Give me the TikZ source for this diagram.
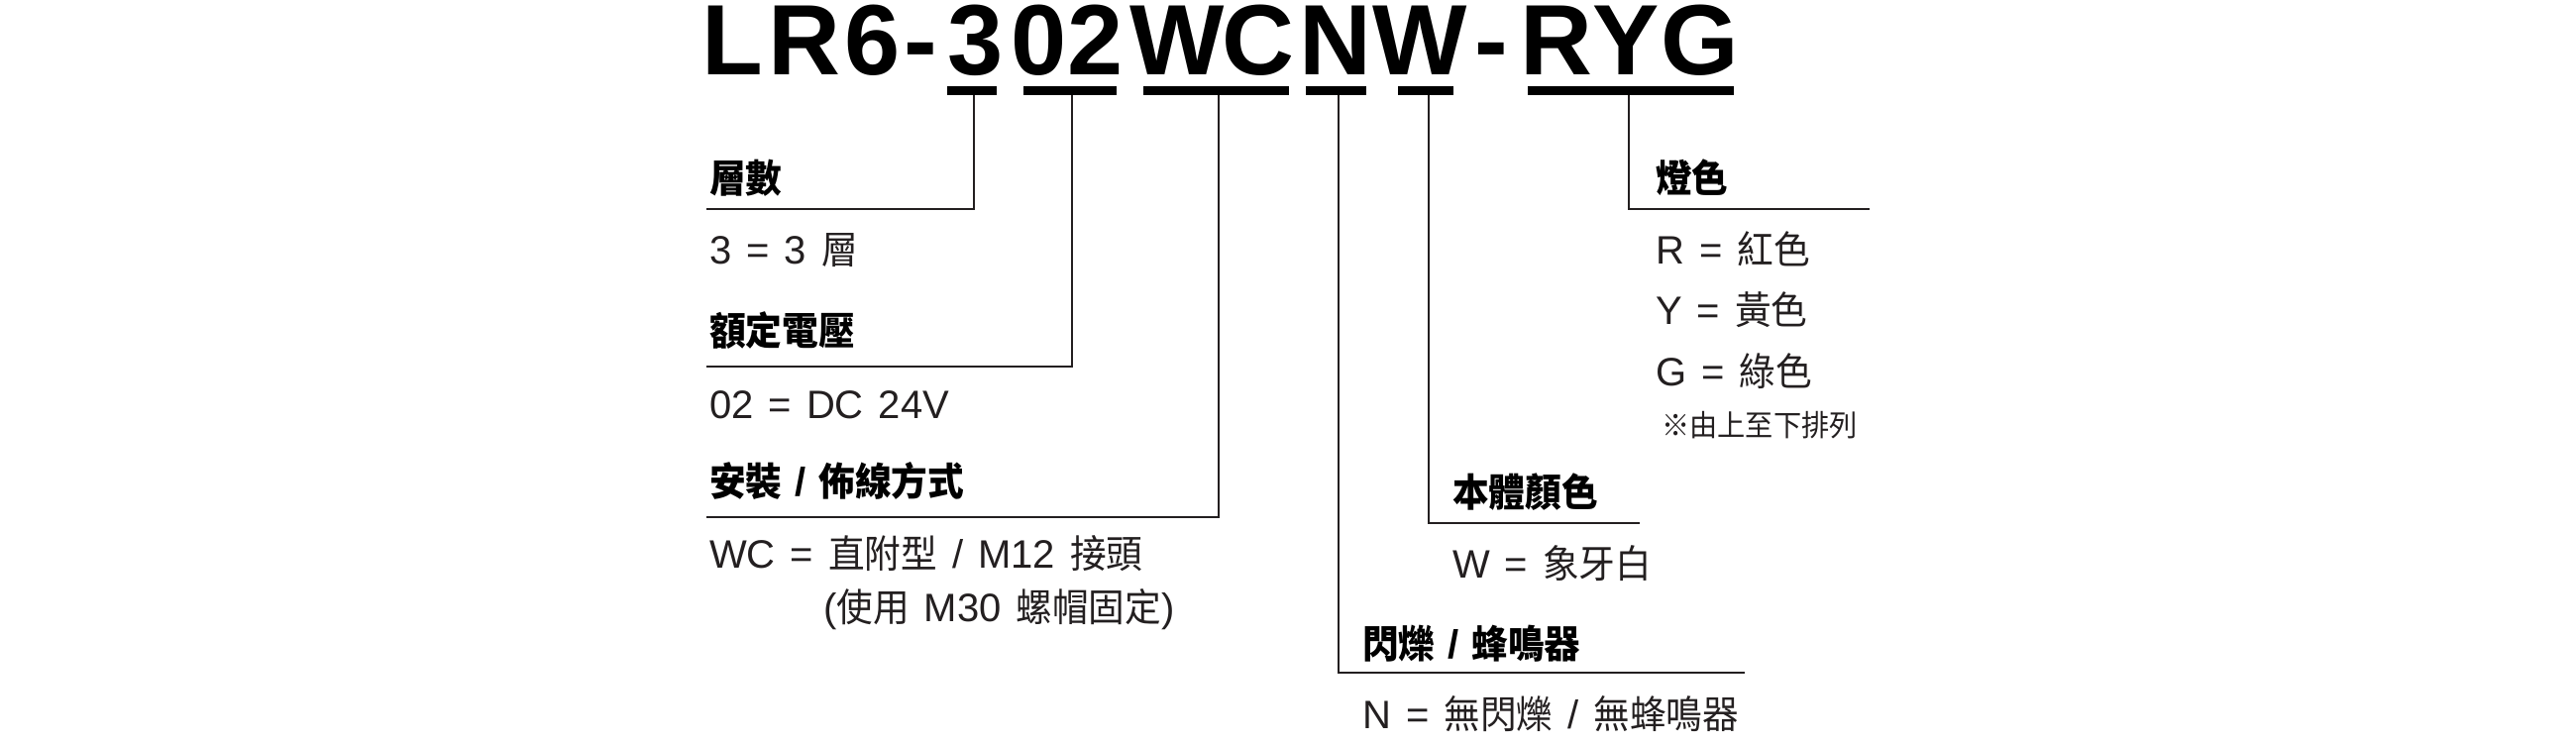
\documentclass[tikz,border=0pt]{standalone}
\usepackage{fontspec}
\setmainfont{Liberation Sans}
\newfontfamily\cjk[FakeStretch=0.94]{Noto Sans CJK TC}
\definecolor{txt}{HTML}{231F20}
\newcommand\zh[1]{{\fontsize{39}{48}\selectfont\cjk #1}}
\newcommand\zhb[1]{{\fontsize{39}{48}\selectfont\cjk\bfseries #1}}
\newcommand\valsp{\spaceskip 15pt\relax}
\newcommand\headsp{\spaceskip 13pt\relax}
\begin{document}
\begin{tikzpicture}[x=1pt,y=-1pt,
  ttl/.style={inner sep=0pt,anchor=base,text=black,font=\fontsize{101}{110}\selectfont\bfseries},
  bar/.style={fill=black,draw=none,inner sep=0pt,minimum height=9pt},
  conn/.style={draw=txt,line width=1.8pt},
  head/.style={inner sep=0pt,anchor=base west,text=black,font={\fontsize{40}{48}\selectfont\bfseries}},
  val/.style={inner sep=0pt,anchor=base west,text=txt,font={\fontsize{40}{48}\selectfont}},
  note/.style={inner sep=0pt,anchor=base west,text=txt,font=\fontsize{30}{36}\selectfont\cjk}]
\useasboundingbox (0,0) rectangle (2600,750);
% title
\foreach \c/\x [count=\i] in {L/739,R/812,6/880.5,-/929.5,3/984.5,0/1049,2/1106,W/1188.5,C/1270,N/1347.5,W/1433.5,-/1505,R/1571,Y/1641.5,G/1715.5}
  \node[ttl] (t\i) at (\x,75) {\c};
% bars
\node[bar,minimum width=50pt]  (b1) at (981,91.5) {};
\node[bar,minimum width=94pt]  (b2) at (1080,91.5) {};
\node[bar,minimum width=147pt] (b3) at (1227.5,91.5) {};
\node[bar,minimum width=61pt]  (b4) at (1348.5,91.5) {};
\node[bar,minimum width=56pt]  (b5) at (1439,91.5) {};
\node[bar,minimum width=208pt] (b6) at (1646,91.5) {};
% underline ends
\coordinate (u1) at (713,211);
\coordinate (u2) at (713,370);
\coordinate (u3) at (713,522);
\coordinate (u4) at (1655,528);
\coordinate (u5) at (1761,679);
\coordinate (u6) at (1887,211);
% connectors
\draw[conn] (b1.south) ++(2,0) |- (u1);
\draw[conn] (b2.south) ++(2,0) |- (u2);
\draw[conn] (b3.south) ++(2.5,0) |- (u3);
\draw[conn] (b4.south) ++(2.5,0) |- (u5);
\draw[conn] (b5.south) ++(3,0) |- (u4);
\draw[conn] (b6.south) ++(-2,0) |- (u6);
% left column
\node[head] (h1) at (716,194) {\zhb{層數}};
\node[val]  (v1) at (716,266) {\valsp 3 = 3 \zh{層}};
\node[head] (h2) at (716,348) {\zhb{額定電壓}};
\node[val]  (v2) at (716,422) {\valsp 02 = DC 24V};
\node[head] (h3) at (716,500) {\headsp\zhb{安裝} / \zhb{佈線方式}};
\node[val]  (v3) at (716,573) {\valsp WC = \zh{直附型} / M12 \zh{接頭}};
\node[val]  (v3b) at (831,627) {\valsp (\zh{使用} M30 \zh{螺帽固定})};
% middle
\node[head] (h4) at (1466,511) {\zhb{本體顏色}};
\node[val]  (v4) at (1466,583) {\valsp W = \zh{象牙白}};
\node[head] (h5) at (1375,664) {\headsp\zhb{閃爍} / \zhb{蜂鳴器}};
\node[val]  (v5) at (1375,735) {\valsp N = \zh{無閃爍} / \zh{無蜂鳴器}};
% right
\node[head] (h6) at (1671,194) {\zhb{燈色}};
\node[val]  (v6a) at (1671,266) {\valsp R = \zh{紅色}};
\node[val]  (v6b) at (1671,327) {\valsp Y = \zh{黃色}};
\node[val]  (v6c) at (1671,389) {\valsp G = \zh{綠色}};
\node[note] (n6) at (1677,440) {※由上至下排列};
\end{tikzpicture}
\end{document}
